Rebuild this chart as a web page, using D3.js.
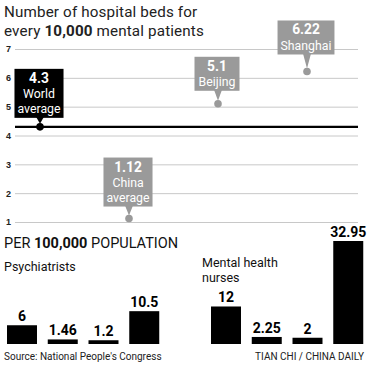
<!DOCTYPE html>
<html><head><meta charset="utf-8">
<script src="https://cdn.jsdelivr.net/npm/d3@7/dist/d3.min.js"></script>
<style>
html,body{margin:0;padding:0;background:#fff;}
svg{display:block;font-family:Roboto,"Liberation Sans",sans-serif;}
</style></head>
<body>
<svg id="c" width="371" height="367"></svg>
<script>
// ---- data ----
const yTicks = [1,2,3,4,5,6,7];
const pointNames = ["World average","China average","Beijing","Shanghai"];
const pointValues = [4.3, 1.12, 5.1, 6.22];
const pointLabels = [["World","average"],["China","average"],["Beijing"],["Shanghai"]];
const worldAverage = 4.3;

const psychCats = ["World","China","Beijing","Shanghai"];
const psychValues = [6, 1.46, 1.2, 10.5];
const psychLabels = ["6","1.46","1.2","10.5"];
const nurseCats = ["World","China","Beijing","Shanghai"];
const nurseValues = [12, 2.25, 2, 32.95];
const nurseLabels = ["12","2.25","2","32.95"];

// ---- layout ----
const svg = d3.select("#c");
const gray = "#9a9a9a";
const boxOffset = {"World average":9, "China average":12, "Beijing":13, "Shanghai":17};

// title
const title = svg.append("text").attr("x",4).attr("y",17).attr("font-size",15.2).attr("fill","#222")
  .attr("letter-spacing",0.15);
title.append("tspan").text("Number of hospital beds for");
const t2 = svg.append("text").attr("x",4).attr("y",35.5).attr("font-size",15.2).attr("fill","#222")
  .attr("letter-spacing",0.15);
t2.append("tspan").text("every ");
t2.append("tspan").attr("font-weight","bold").text("10,000");
t2.append("tspan").text(" mental patients");

const y = d3.scaleLinear().domain([1,7]).range([222,49]);
const x = d3.scalePoint().domain(pointNames).range([40,307]);

// grid
const yAxis = d3.axisLeft(y).tickValues(yTicks).tickSize(-343).tickFormat(d3.format("d"));
const gAx = svg.append("g").attr("transform","translate(15,0)").call(yAxis);
gAx.select(".domain").remove();
gAx.selectAll(".tick line").attr("stroke","#c8c8c8").attr("stroke-width",1);
gAx.selectAll(".tick text").attr("x",-4).attr("font-size",9).attr("fill","#222").attr("font-weight","bold");

// world average line
svg.append("line").attr("x1",15).attr("x2",358)
  .attr("y1",y(worldAverage)).attr("y2",y(worldAverage))
  .attr("stroke","#000").attr("stroke-width",2.2);

// callouts
pointNames.forEach((name,i)=>{
  const v = pointValues[i];
  const px = x(name), py = y(v);
  const col = name==="World average" ? "#000" : gray;
  const lines = pointLabels[i];
  const h = lines.length === 2 ? 49 : 34;
  const bottom = py - boxOffset[name];
  const top = bottom - h;
  const g = svg.append("g");
  const tg = g.append("g");
  tg.append("text").attr("x",px-1).attr("y",top+14).attr("text-anchor","middle")
    .attr("font-size",13.8).attr("font-weight","bold").attr("fill","#fff").text(v);
  lines.forEach((l,j)=>{
    tg.append("text").attr("x",px-1).attr("y",top+29.5+j*14.5).attr("text-anchor","middle")
      .attr("font-size",12.3).attr("fill","#fff").text(l);
  });
  let w = 0;
  tg.selectAll("text").each(function(){ w = Math.max(w, this.getComputedTextLength()); });
  w = Math.max(w + 6, 45);
  g.insert("rect","g").attr("x",px-1-w/2).attr("y",top).attr("width",w).attr("height",h).attr("fill",col);
  g.insert("path","g").attr("d",`M${px-4},${bottom-1}L${px+4},${bottom-1}L${px},${py-3}Z`).attr("fill",col);
  g.append("circle").attr("cx",px).attr("cy",py).attr("r",3.8).attr("fill",col);
});

// bottom section
const p = svg.append("text").attr("x",4).attr("y",248).attr("font-size",14.5).attr("fill","#111");
p.append("tspan").text("PER ");
p.append("tspan").attr("font-weight","bold").text("100,000");
p.append("tspan").text(" POPULATION");
svg.append("text").attr("x",4).attr("y",271).attr("font-size",12.5).attr("fill","#111").text("Psychiatrists");
svg.append("text").attr("x",202).attr("y",267).attr("font-size",12.5).attr("fill","#111").text("Mental health");
svg.append("text").attr("x",202).attr("y",282).attr("font-size",12.5).attr("fill","#111").text("nurses");

const yb = d3.scaleLinear().domain([0,32.95]).range([344,241]);
function bars(cats, vals, labels, x0){
  const xb = d3.scaleBand().domain(cats).range([x0, x0+152.25]).paddingInner(0.264).paddingOuter(0);
  const g = svg.append("g");
  g.selectAll("rect").data(vals).join("rect")
    .attr("x",(d,i)=>xb(cats[i])).attr("width",xb.bandwidth())
    .attr("y",d=>yb(d)).attr("height",d=>yb(0)-yb(d)).attr("fill","#000");
  g.selectAll("text").data(vals).join("text")
    .attr("x",(d,i)=>xb(cats[i])+xb.bandwidth()/2).attr("y",d=>yb(d)-4)
    .attr("text-anchor","middle").attr("font-size",14).attr("font-weight","bold").attr("fill","#000")
    .text((d,i)=>labels[i]);
}
bars(psychCats, psychValues, psychLabels, 7);
bars(nurseCats, nurseValues, nurseLabels, 211);

svg.append("text").attr("x",4).attr("y",360).attr("font-size",10).attr("fill","#222").text("Source: National People's Congress");
svg.append("text").attr("x",364).attr("y",360).attr("text-anchor","end").attr("font-size",10).attr("fill","#222").text("TIAN CHI / CHINA DAILY");
</script>
</body></html>
